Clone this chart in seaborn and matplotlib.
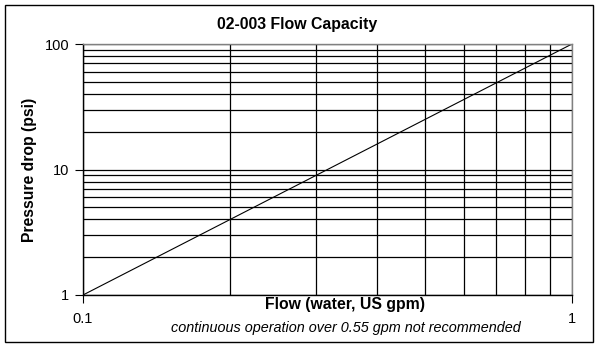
import matplotlib
matplotlib.use("Agg")
import matplotlib.pyplot as plt
import seaborn as sns
import numpy as np
import pandas as pd
from matplotlib.ticker import LogLocator, FixedLocator, NullFormatter, FixedFormatter
from matplotlib.patches import Rectangle

flow = [0.1, 1.0]
pressure = [1.0, 100.0]
title = "02-003 Flow Capacity"
xlabel = "Flow (water, US gpm)"
ylabel = "Pressure drop (psi)"
note = "continuous operation over 0.55 gpm not recommended"
x_major = [0.1, 1]
x_major_labels = ["0.1", "1"]
y_major = [1, 10, 100]
y_major_labels = ["1", "10", "100"]

sns.set_theme(style="white")
plt.rcParams['font.family'] = ['Liberation Sans', 'DejaVu Sans']

fig = plt.figure(figsize=(6, 3.48), dpi=100)
W, H = 600, 348
ax = fig.add_axes([83 / W, 1 - 295 / H, (572 - 83) / W, (295 - 44) / H])

df = pd.DataFrame({"flow": flow, "pressure": pressure})
sns.lineplot(data=df, x="flow", y="pressure", ax=ax, color="black", linewidth=0.8)

ax.set_xscale("log")
ax.set_yscale("log")
ax.set_xlim(0.1, 1)
ax.set_ylim(1, 100)

ax.xaxis.set_major_locator(FixedLocator(x_major))
ax.xaxis.set_major_formatter(FixedFormatter(x_major_labels))
ax.yaxis.set_major_locator(FixedLocator(y_major))
ax.yaxis.set_major_formatter(FixedFormatter(y_major_labels))
ax.xaxis.set_minor_locator(LogLocator(base=10, subs=np.arange(2, 10)))
ax.yaxis.set_minor_locator(LogLocator(base=10, subs=np.arange(2, 10)))
ax.xaxis.set_minor_formatter(NullFormatter())
ax.yaxis.set_minor_formatter(NullFormatter())

ax.grid(which="both", color="black", linewidth=0.9)
ax.tick_params(which="major", direction="out", length=6, width=0.8, color="black",
               bottom=True, left=True, labelsize=10.5, labelcolor="black")
ax.tick_params(axis="x", which="major", pad=6)
ax.tick_params(axis="y", which="major", pad=4)
ax.tick_params(which="minor", length=0)

for side in ["top", "right"]:
    ax.spines[side].set_color("#808080")
    ax.spines[side].set_linewidth(1.0)
for side in ["left", "bottom"]:
    ax.spines[side].set_color("black")
    ax.spines[side].set_linewidth(1.0)

ax.set_xlabel("")
ax.set_ylabel("")

fig.text(297 / W, 1 - 25 / H, title, ha="center", va="center", fontsize=11.4, fontweight="bold", color="black")
fig.text(345 / W, 1 - 304 / H, xlabel, ha="center", va="center", fontsize=11.3, fontweight="bold", color="black")
fig.text(30 / W, 1 - 170 / H, ylabel, ha="center", va="center", rotation=90, fontsize=11.3, fontweight="bold", color="black")
fig.text(346 / W, 1 - 328 / H, note, ha="center", va="center", fontsize=10.4, fontstyle="italic", color="black")

fig.patches.append(Rectangle((5 / W, 1 - 342 / H), (593 - 5) / W, (342 - 5) / H,
                             transform=fig.transFigure, fill=False, edgecolor="black", linewidth=1.0))

fig.savefig("out.png", dpi=100)
